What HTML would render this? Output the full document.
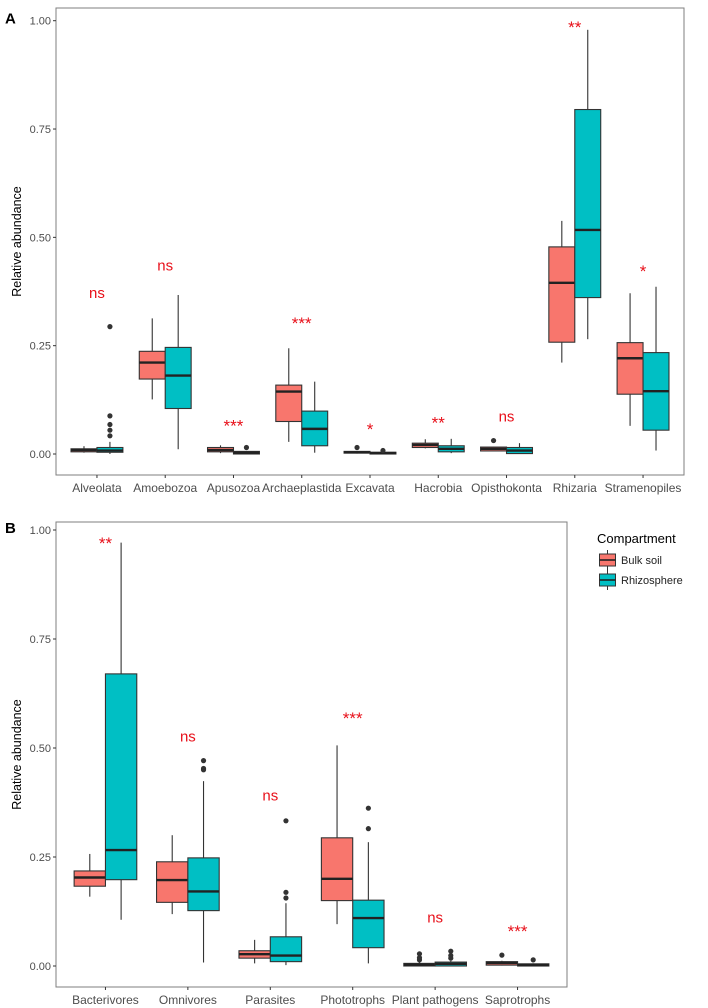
<!DOCTYPE html>
<html><head><meta charset="utf-8"><style>
html,body{margin:0;padding:0;background:#fff;}
svg{display:block;font-family:"Liberation Sans",Arial,sans-serif;}
</style></head><body>
<svg id="chart" width="708" height="1008" viewBox="0 0 708 1008" xmlns="http://www.w3.org/2000/svg"></svg>
<script>
// ---- Panel A data ----
const catsA = ["Alveolata","Amoebozoa","Apusozoa","Archaeplastida","Excavata","Hacrobia","Opisthokonta","Rhizaria","Stramenopiles"];
// [min, q1, median, q3, max]
const bulkA = [[0.003,0.005,0.009,0.012,0.018],[0.126,0.173,0.211,0.237,0.313],[0.002,0.005,0.009,0.015,0.020],[0.028,0.075,0.144,0.159,0.244],[0.001,0.002,0.004,0.006,0.007],[0.013,0.015,0.021,0.025,0.034],[0.007,0.007,0.012,0.016,0.017],[0.211,0.258,0.395,0.478,0.538],[0.065,0.138,0.221,0.257,0.371]];
const rhizoA = [[0.000,0.004,0.008,0.015,0.028],[0.011,0.105,0.181,0.246,0.367],[0.000,0.000,0.003,0.006,0.007],[0.003,0.019,0.058,0.099,0.167],[0.000,0.000,0.002,0.004,0.005],[0.002,0.005,0.012,0.019,0.035],[0.000,0.001,0.008,0.015,0.025],[0.265,0.361,0.517,0.795,0.979],[0.008,0.055,0.145,0.234,0.386]];
const bulkOutA = [[],[],[],[],[0.015],[],[0.031],[],[]];
const rhizoOutA = [[0.042,0.055,0.068,0.088,0.294],[],[0.015],[],[0.008],[],[],[],[]];
const sigA = ["ns","ns","***","***","*","**","ns","**","*"];
const sigYA = [0.371,0.435,0.075,0.311,0.067,0.082,0.086,0.995,0.432];

// ---- Panel B data ----
const catsB = ["Bacterivores","Omnivores","Parasites","Phototrophs","Plant pathogens","Saprotrophs"];
const bulkB = [[0.159,0.183,0.203,0.218,0.257],[0.119,0.146,0.197,0.239,0.300],[0.006,0.018,0.027,0.035,0.060],[0.096,0.150,0.200,0.294,0.506],[0.000,0.000,0.003,0.006,0.008],[0.001,0.002,0.007,0.010,0.012]];
const rhizoB = [[0.106,0.198,0.266,0.670,0.971],[0.008,0.127,0.171,0.248,0.424],[0.002,0.010,0.024,0.067,0.144],[0.006,0.042,0.110,0.151,0.284],[0.000,0.000,0.005,0.009,0.012],[0.000,0.000,0.002,0.005,0.006]];
const bulkOutB = [[],[],[],[],[0.014,0.019,0.028],[0.025]];
const rhizoOutB = [[],[0.450,0.453,0.471],[0.156,0.169,0.333],[0.315,0.362],[0.018,0.024,0.034],[0.014]];
const sigB = ["**","ns","ns","***","ns","***"];
const sigYB = [0.979,0.526,0.391,0.578,0.111,0.090];

const yTicks = [0,0.25,0.5,0.75,1.0];
const yTickLabels = ["0.00","0.25","0.50","0.75","1.00"];

const NS="http://www.w3.org/2000/svg";
const svg=document.getElementById('chart');
function mk(tag,attrs,parent){const e=document.createElementNS(NS,tag);for(const k in attrs)e.setAttribute(k,attrs[k]);(parent||svg).appendChild(e);return e;}

function panel(cfg){
  const g=mk('g',{});
  
  
  const y=v=>cfg.y0-v*(cfg.y0-cfg.y1);
  const n=cfg.cats.length;
  const step=(cfg.right-cfg.left)/(n+0.2);
  const x=i=>cfg.left+step*(i+0.6);
  const bw=step*0.38;
  // frame
  const fr=mk('rect',{x:cfg.left,y:cfg.top,width:cfg.right-cfg.left,height:cfg.bottom-cfg.top,fill:'none',stroke:'#7f7f7f','stroke-width':1},g);
  
  
  // y ticks
  yTicks.forEach((t,i)=>{
    mk('line',{x1:cfg.left-3,x2:cfg.left,y1:y(t),y2:y(t),stroke:'#333','stroke-width':1},g);
    const tx=mk('text',{x:cfg.left-5,y:y(t)+4,'text-anchor':'end','font-size':11,fill:'#4d4d4d'},g);
    tx.textContent=yTickLabels[i];
    
    
  });
  const yt=mk('text',{x:0,y:0,'text-anchor':'middle','font-size':12.5,fill:'#000',transform:`translate(21,${(cfg.top+cfg.bottom)/2}) rotate(-90)`},g);
  yt.textContent='Relative abundance';
  
  
  const pl=mk('text',{x:5,y:cfg.y1+3,'font-size':15,'font-weight':'bold',fill:'#000'},g);
  pl.textContent=cfg.label;
  
  
  function box(cx,s,outs,color,nm){
    const bg=mk('g',{},g);
    
    
    mk('line',{x1:cx,x2:cx,y1:y(s[4]),y2:y(s[3]),stroke:'#333','stroke-width':1.1},bg);
    mk('line',{x1:cx,x2:cx,y1:y(s[1]),y2:y(s[0]),stroke:'#333','stroke-width':1.1},bg);
    mk('rect',{x:cx-bw/2,y:y(s[3]),width:bw,height:Math.max(y(s[1])-y(s[3]),0.5),fill:color,stroke:'#333','stroke-width':1.1},bg);
    mk('line',{x1:cx-bw/2,x2:cx+bw/2,y1:y(s[2]),y2:y(s[2]),stroke:'#222','stroke-width':2.4},bg);
    outs.forEach(o=>{mk('circle',{cx:cx,cy:y(o),r:2.6,fill:'#333'},bg);});
  }
  cfg.cats.forEach((c,i)=>{
    const cx=x(i);
    mk('line',{x1:cx,x2:cx,y1:cfg.bottom,y2:cfg.bottom+3,stroke:'#333','stroke-width':1},g);
    const t=mk('text',{x:cx,y:cfg.bottom+17,'text-anchor':'middle','font-size':12,fill:'#4d4d4d'},g);
    t.textContent=c;
    
    
    box(cx-bw/2,cfg.bulk[i],cfg.bulkOut[i],'#F8766D','box-bulk-soil');
    box(cx+bw/2,cfg.rhizo[i],cfg.rhizoOut[i],'#00BFC4','box-rhizosphere');
    const s=mk('text',{x:cx,y:y(cfg.sigY[i])+(cfg.sig[i]==='ns'?5:10),'text-anchor':'middle','font-size':cfg.sig[i]==='ns'?15:17,fill:'#e8101a'},g);
    s.textContent=cfg.sig[i];
    
    
  });
}
panel({name:'panel-a',label:'A',cats:catsA,bulk:bulkA,rhizo:rhizoA,bulkOut:bulkOutA,rhizoOut:rhizoOutA,sig:sigA,sigY:sigYA,left:56,right:684,top:8,bottom:475,y0:454,y1:20.7});
panel({name:'panel-b',label:'B',cats:catsB,bulk:bulkB,rhizo:rhizoB,bulkOut:bulkOutB,rhizoOut:rhizoOutB,sig:sigB,sigY:sigYB,left:56,right:567,top:522,bottom:987,y0:966,y1:530});

// legend
const lg=mk('g',{});


const lt=mk('text',{x:597,y:543,'font-size':13,fill:'#000'},lg);
lt.textContent='Compartment';


[['Bulk soil','#F8766D',553],['Rhizosphere','#00BFC4',573]].forEach(([nm,col,yy])=>{
  const e=mk('g',{},lg);
  
  
  mk('line',{x1:607.5,x2:607.5,y1:yy-3,y2:yy+17,stroke:'#333','stroke-width':1},e);
  mk('rect',{x:599.5,y:yy+1,width:16,height:12,fill:col,stroke:'#333','stroke-width':1},e);
  mk('line',{x1:599.5,x2:615.5,y1:yy+7,y2:yy+7,stroke:'#222','stroke-width':1.6},e);
  const t=mk('text',{x:621,y:yy+11,'font-size':11,fill:'#222'},e);
  t.textContent=nm;
});
</script>
</body></html>
